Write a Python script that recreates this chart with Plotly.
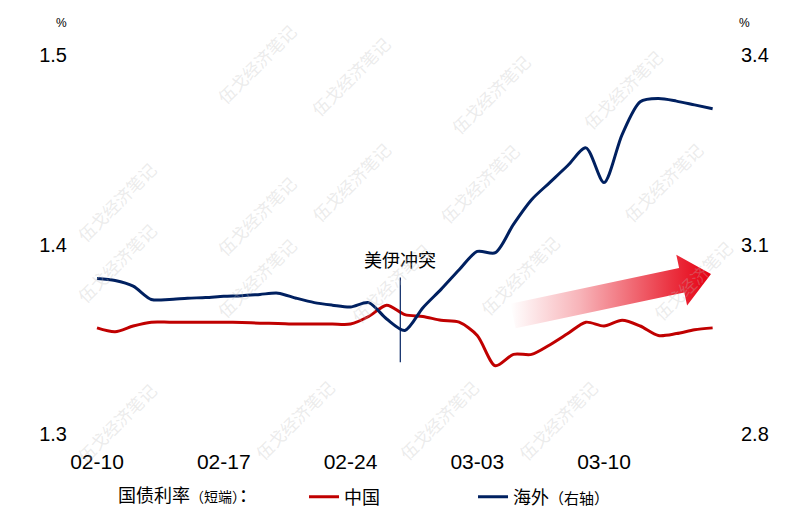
import pandas as pd
import plotly.graph_objects as go

# ---------------- data ----------------
dates = pd.date_range("2026-02-10", "2026-03-16", freq="D")
china = [1.356, 1.354, 1.357, 1.359, 1.359, 1.359, 1.359, 1.359, 1.3588, 1.3585,
         1.3583, 1.358, 1.358, 1.358, 1.358, 1.362, 1.368, 1.363, 1.362, 1.360,
         1.359, 1.352, 1.336, 1.342, 1.342, 1.347, 1.353, 1.359, 1.357, 1.360,
         1.357, 1.352, 1.353, 1.355, 1.356]
overseas = [3.046, 3.043, 3.034, 3.013, 3.013, 3.015, 3.016, 3.018, 3.019, 3.021,
            3.023, 3.015, 3.008, 3.004, 3.001, 3.008, 2.982, 2.964, 3.000, 3.029,
            3.060, 3.089, 3.087, 3.132, 3.171, 3.198, 3.225, 3.253, 3.198, 3.274,
            3.326, 3.331, 3.327, 3.321, 3.315]
tick_dates = ["2026-02-10", "2026-02-17", "2026-02-24", "2026-03-03", "2026-03-10"]
left_ticks = [1.3, 1.4, 1.5]
right_ticks = [2.8, 3.1, 3.4]
event_date = "2026-02-26 18:00"
event_label = "美伊冲突"
legend_title = ("国债利率<span style='font-size:14px'>（短端）</span>：\u3000\u3000"
                "<span style='font-size:12px'>\u3000</span>")
name_cn = "中国"
name_os = "海外<span style='font-size:15px'>（右轴）</span>"
watermark = "伍戈经济笔记"

# ---------------- layout geometry ----------------
W, H = 800, 518
L, R, T, B = 85, 80, 55, 84
px_per_day = (604 - 97) / 28.0
x0 = pd.Timestamp("2026-02-10") - pd.Timedelta(days=(97 - L) / px_per_day)
x1 = pd.Timestamp("2026-02-10") + pd.Timedelta(days=(W - R - 97) / px_per_day)

RED = "#c00000"
NAVY = "#002060"
FONT = "Liberation Sans, Arial, Noto Sans CJK SC, sans-serif"

fig = go.Figure()
fig.add_trace(go.Scatter(x=dates, y=china, name=name_cn, mode="lines",
                         line=dict(color=RED, width=3, shape="spline", smoothing=0.8)))
fig.add_trace(go.Scatter(x=dates, y=overseas, name=name_os, mode="lines", yaxis="y2",
                         line=dict(color=NAVY, width=3, shape="spline", smoothing=0.8)))

# gradient arrow on a hidden pixel-space overlay axis
ax_x = [510.4, 679.1, 676.3, 711, 687.1, 684.3, 515.6, 510.4]
ax_y = [303.8, 268.0, 254.8, 274, 305.6, 292.4, 328.2, 303.8]
fig.add_trace(go.Scatter(x=ax_x, y=ax_y, xaxis="x3", yaxis="y3", mode="lines",
                         fill="toself", line=dict(width=0, color="rgba(0,0,0,0)"),
                         fillgradient=dict(type="horizontal",
                                           colorscale=[[0, "rgba(230,0,18,0.0)"],
                                                       [0.35, "rgba(230,0,18,0.3)"],
                                                       [0.8, "rgba(230,0,18,0.8)"],
                                                       [1, "rgba(230,0,18,1)"]]),
                         showlegend=False, hoverinfo="skip"))

fig.update_layout(
    width=W, height=H,
    margin=dict(l=L, r=R, t=T, b=B, autoexpand=False),
    paper_bgcolor="white", plot_bgcolor="white",
    font=dict(family=FONT, color="black", size=19),
    xaxis=dict(type="date", range=[x0, x1], tickvals=tick_dates, tickformat="%m-%d",
               showgrid=False, zeroline=False, showline=False, ticks="", automargin=False,
               ticklabelstandoff=13, tickfont=dict(size=21)),
    yaxis=dict(range=[1.3, 1.5], tickvals=left_ticks, tickformat=".1f", automargin=False,
               showgrid=False, zeroline=False, showline=False, ticks="",
               ticklabelstandoff=17, tickfont=dict(size=20)),
    yaxis2=dict(range=[2.8, 3.4], tickvals=right_ticks, tickformat=".1f", overlaying="y",
                side="right", showgrid=False, zeroline=False, showline=False, ticks="",
                automargin=False, ticklabelstandoff=20, tickfont=dict(size=20)),
    xaxis3=dict(range=[L, W - R], overlaying="x", visible=False, fixedrange=True),
    yaxis3=dict(range=[H - B, T], overlaying="y", visible=False, fixedrange=True),
    showlegend=True,
    legend=dict(orientation="h", x=(116 - L) / (W - L - R), xanchor="left",
                y=(H - B - 497) / (H - T - B), yanchor="middle",
                title=dict(text=legend_title, side="left", font=dict(size=18)),
                font=dict(size=18), entrywidth=124, entrywidthmode="pixels",
                bgcolor="rgba(0,0,0,0)", traceorder="normal"),
)

# event marker
fig.add_shape(type="line", xref="x", yref="y", x0=event_date, x1=event_date,
              y0=1.3379, y1=1.3826, line=dict(color=NAVY, width=1.2))
fig.add_annotation(x=event_date, xref="x", y=1.3826, yref="y", yanchor="bottom",
                   yshift=4, text=event_label, showarrow=False, font=dict(size=18))

# unit labels
fig.add_annotation(x=(54 - L) / (W - L - R), y=(H - B - 14) / (H - T - B), xref="paper", yref="paper",
                   text="%", showarrow=False, font=dict(size=12))
fig.add_annotation(x=(752 - L) / (W - L - R), y=(H - B - 14) / (H - T - B), xref="paper", yref="paper",
                   text="%", showarrow=False, font=dict(size=12))

# watermark
wm_centers = [(212, 20), (352, 32), (492, 50), (670, 45),
              (72, 158), (212, 172), (352, 183), (527, 185), (710, 183),
              (72, 310), (212, 325), (392, 330), (567, 322), (740, 327),
              (72, 470), (250, 467), (440, 467), (605, 467)]
for cx, cy in wm_centers:
    fig.add_annotation(x=(cx - L) / (W - L - R), y=(H - B - cy) / (H - T - B),
                       xref="paper", yref="paper", text=watermark, showarrow=False,
                       textangle=-45, font=dict(size=17, color="rgba(190,190,190,0.3)"))

fig.write_html("out.html", config={"displayModeBar": False},
               post_script="document.body.style.margin='0';")
